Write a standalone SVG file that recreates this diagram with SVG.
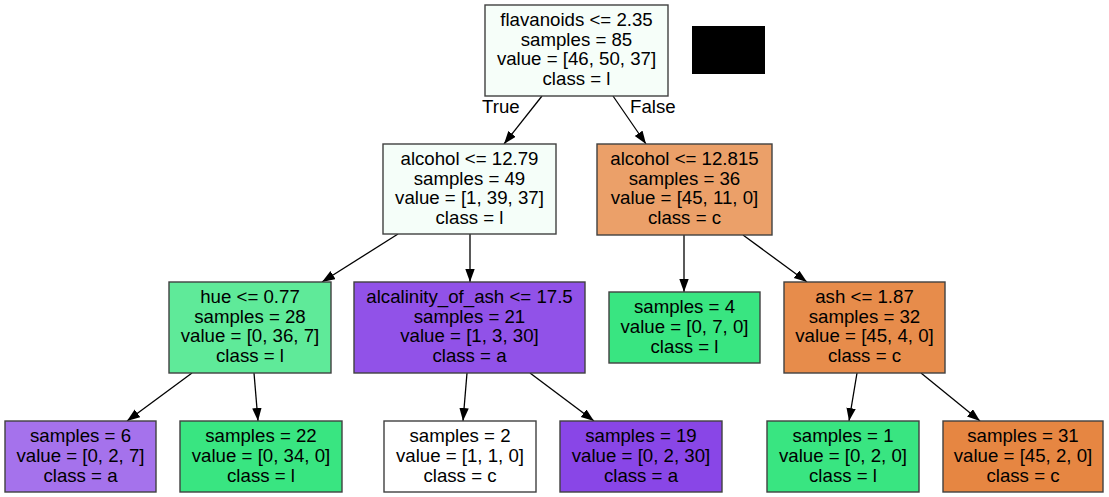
<svg xmlns="http://www.w3.org/2000/svg" width="1109" height="497" viewBox="0 0 1109 497">
<style>
.box{stroke:#404040;stroke-width:1.4}
text{font-family:"Liberation Sans",Arial,sans-serif;font-size:18.67px;fill:#000;text-anchor:middle}
.edge{stroke:#000;stroke-width:1.3;fill:none;marker-end:url(#arr)}
.lbl{text-anchor:start}
</style>
<defs>
<marker id="arr" markerUnits="userSpaceOnUse" markerWidth="14" markerHeight="10" refX="13" refY="4.7" orient="auto">
<path d="M0,0 L13,4.7 L0,9.4 z" fill="#000"/>
</marker>
</defs>
<rect width="1109" height="497" fill="#fff"/>
<g id="connectors">
<line class="edge" x1="542" y1="96" x2="504" y2="144"/>
<line class="edge" x1="613" y1="96" x2="646" y2="144"/>
<line class="edge" x1="398" y1="234" x2="322" y2="282"/>
<line class="edge" x1="470" y1="234" x2="470" y2="282"/>
<line class="edge" x1="684" y1="235" x2="684" y2="292"/>
<line class="edge" x1="743" y1="235" x2="807" y2="282"/>
<line class="edge" x1="192" y1="373" x2="127" y2="421"/>
<line class="edge" x1="254" y1="373" x2="258" y2="421"/>
<line class="edge" x1="467" y1="373" x2="463" y2="421"/>
<line class="edge" x1="530" y1="373" x2="594" y2="421"/>
<line class="edge" x1="857" y1="373" x2="849" y2="421"/>
<line class="edge" x1="921" y1="373" x2="980" y2="421"/>
<text class="lbl" x="482" y="113">True</text>
<text class="lbl" x="630" y="113">False</text>
</g>
<rect id="legend" x="692" y="26" width="73" height="48" fill="#000"/>
<g id="n0">
<rect class="box" x="485" y="5" width="183" height="91" fill="#f6fef9"/>
<text x="576.5" y="26">flavanoids &lt;= 2.35</text>
<text x="576.5" y="45.7">samples = 85</text>
<text x="576.5" y="65.4">value = [46, 50, 37]</text>
<text x="576.5" y="85">class = l</text>
</g>
<g id="n1">
<rect class="box" x="383" y="144" width="173" height="90" fill="#f5fef9"/>
<text x="469.5" y="165">alcohol &lt;= 12.79</text>
<text x="469.5" y="184.7">samples = 49</text>
<text x="469.5" y="204.4">value = [1, 39, 37]</text>
<text x="469.5" y="224">class = l</text>
</g>
<g id="n2">
<rect class="box" x="597" y="144" width="175" height="91" fill="#eba069"/>
<text x="684.5" y="165">alcohol &lt;= 12.815</text>
<text x="684.5" y="184.7">samples = 36</text>
<text x="684.5" y="204.4">value = [45, 11, 0]</text>
<text x="684.5" y="224">class = c</text>
</g>
<g id="n3">
<rect class="box" x="169" y="282" width="162" height="91" fill="#5fea99"/>
<text x="250" y="303">hue &lt;= 0.77</text>
<text x="250" y="322.7">samples = 28</text>
<text x="250" y="342.4">value = [0, 36, 7]</text>
<text x="250" y="362">class = l</text>
</g>
<g id="n4">
<rect class="box" x="354" y="282" width="231" height="91" fill="#9152e8"/>
<text x="469.5" y="303">alcalinity_of_ash &lt;= 17.5</text>
<text x="469.5" y="322.7">samples = 21</text>
<text x="469.5" y="342.4">value = [1, 3, 30]</text>
<text x="469.5" y="362">class = a</text>
</g>
<g id="n5">
<rect class="box" x="609" y="292" width="151" height="71" fill="#39e581"/>
<text x="684.5" y="313">samples = 4</text>
<text x="684.5" y="333">value = [0, 7, 0]</text>
<text x="684.5" y="353">class = l</text>
</g>
<g id="n6">
<rect class="box" x="784" y="282" width="161" height="91" fill="#e78c4b"/>
<text x="864.5" y="303">ash &lt;= 1.87</text>
<text x="864.5" y="322.7">samples = 32</text>
<text x="864.5" y="342.4">value = [45, 4, 0]</text>
<text x="864.5" y="362">class = c</text>
</g>
<g id="n7">
<rect class="box" x="5" y="421" width="151" height="71" fill="#a572ec"/>
<text x="80.5" y="442">samples = 6</text>
<text x="80.5" y="462">value = [0, 2, 7]</text>
<text x="80.5" y="482">class = a</text>
</g>
<g id="n8">
<rect class="box" x="180" y="421" width="162" height="71" fill="#39e581"/>
<text x="261" y="442">samples = 22</text>
<text x="261" y="462">value = [0, 34, 0]</text>
<text x="261" y="482">class = l</text>
</g>
<g id="n9">
<rect class="box" x="384" y="421" width="152" height="71" fill="#ffffff"/>
<text x="460" y="442">samples = 2</text>
<text x="460" y="462">value = [1, 1, 0]</text>
<text x="460" y="482">class = c</text>
</g>
<g id="n10">
<rect class="box" x="560" y="421" width="162" height="71" fill="#8946e7"/>
<text x="641" y="442">samples = 19</text>
<text x="641" y="462">value = [0, 2, 30]</text>
<text x="641" y="482">class = a</text>
</g>
<g id="n11">
<rect class="box" x="767" y="421" width="152" height="71" fill="#39e581"/>
<text x="843" y="442">samples = 1</text>
<text x="843" y="462">value = [0, 2, 0]</text>
<text x="843" y="482">class = l</text>
</g>
<g id="n12">
<rect class="box" x="943" y="421" width="160" height="71" fill="#e68642"/>
<text x="1023" y="442">samples = 31</text>
<text x="1023" y="462">value = [45, 2, 0]</text>
<text x="1023" y="482">class = c</text>
</g>
</svg>
